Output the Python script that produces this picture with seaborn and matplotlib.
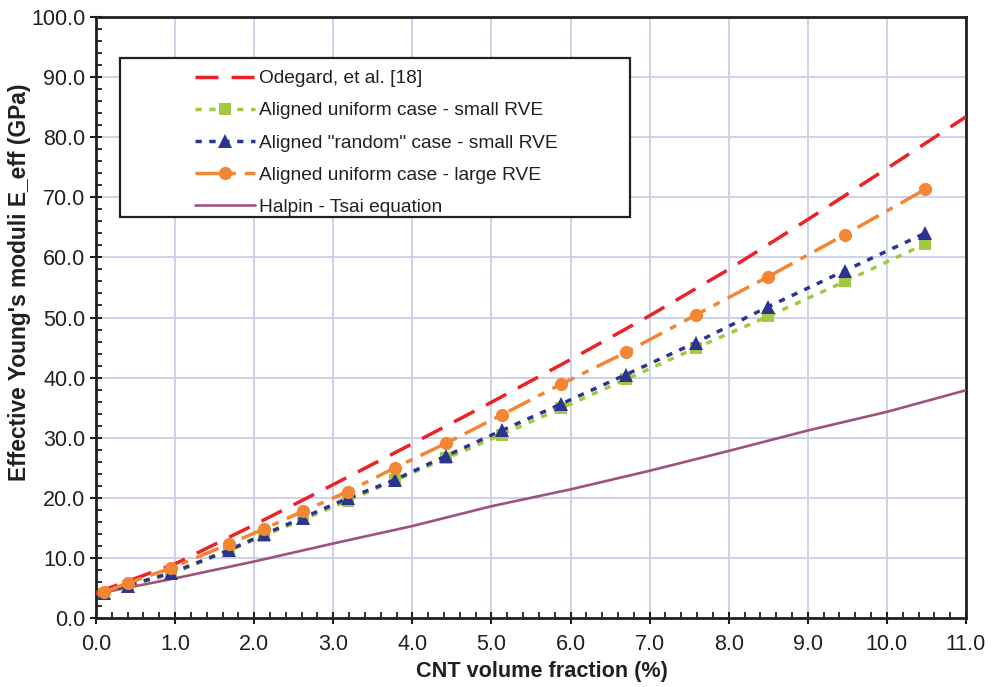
import numpy as np
import pandas as pd
import matplotlib
matplotlib.use("Agg")
import matplotlib.pyplot as plt
from matplotlib.patches import Rectangle
from matplotlib.ticker import MultipleLocator, FormatStrFormatter
import seaborn as sns

# ---- data ----
vf_points = [0.1, 0.4, 0.95, 1.68, 2.12, 2.62, 3.18, 3.78, 4.43, 5.13, 5.88, 6.7, 7.58, 8.5, 9.47, 10.48]
uniform_large = [4.3, 5.8, 8.3, 12.3, 14.8, 17.8, 21.0, 25.0, 29.1, 33.8, 38.9, 44.2, 50.4, 56.8, 63.8, 71.3]
random_small = [4.2, 5.4, 7.5, 11.3, 13.9, 16.7, 19.9, 23.0, 27.0, 31.2, 35.6, 40.5, 45.8, 51.8, 57.8, 64.0]
uniform_small = [4.0, 5.3, 7.3, 11.2, 13.7, 16.4, 19.5, 22.9, 26.6, 30.5, 34.9, 39.7, 44.9, 50.2, 56.0, 62.2]

vf_curve = [0.0, 1.0, 2.0, 3.0, 4.0, 5.0, 6.0, 7.0, 8.0, 9.0, 10.0, 11.0]
odegard = [4.2, 9.0, 15.5, 22.2, 29.0, 35.9, 43.0, 50.3, 58.0, 66.3, 74.8, 83.4]
halpin_tsai = [4.0, 6.6, 9.4, 12.4, 15.3, 18.6, 21.4, 24.5, 27.8, 31.2, 34.3, 37.9]

labels = ["Odegard, et al. [18]",
          "Aligned uniform case - small RVE",
          "Aligned \"random\" case - small RVE",
          "Aligned uniform case - large RVE",
          "Halpin - Tsai equation"]

x_ticks = [0.0, 1.0, 2.0, 3.0, 4.0, 5.0, 6.0, 7.0, 8.0, 9.0, 10.0, 11.0]
y_ticks = [0, 10, 20, 30, 40, 50, 60, 70, 80, 90, 100]

# ---- style ----
sns.set_style("ticks")
plt.rcParams['font.family'] = ['Liberation Sans', 'DejaVu Sans']
text_color = "#231F20"

C_RED = "#EC2227"
C_GREEN = "#A3C940"
C_BLUE = "#2B3590"
C_ORANGE = "#F38634"
C_PURPLE = "#A0527E"
C_GRID = "#CDD1EA"

fig = plt.figure(figsize=(9.95, 6.87), dpi=100)
ax = fig.add_axes([96/995, 69/687, 870/995, 601/687])

df_pts = pd.DataFrame({"vf": vf_points, "large": uniform_large,
                       "rand": random_small, "small": uniform_small})
df_curve = pd.DataFrame({"vf": vf_curve, "ode": odegard, "ht": halpin_tsai})

lw = 2.5
sns.lineplot(data=df_curve, x="vf", y="ht", ax=ax, color=C_PURPLE, lw=1.9,
             label=labels[4], errorbar=None, zorder=3)
sns.lineplot(data=df_curve, x="vf", y="ode", ax=ax, color=C_RED, lw=lw,
             linestyle=(0, (6.6, 3.8)), label=labels[0], errorbar=None, zorder=3)
sns.lineplot(data=df_pts, x="vf", y="small", ax=ax, color=C_GREEN, lw=lw,
             linestyle=(0, (1.8, 2.2)), marker="s", markersize=8.5,
             mec=C_GREEN, mfc=C_GREEN, mew=0, label=labels[1], errorbar=None, zorder=3)
sns.lineplot(data=df_pts, x="vf", y="rand", ax=ax, color=C_BLUE, lw=lw,
             linestyle=(0, (1.8, 2.2)), marker="^", markersize=10,
             mec=C_BLUE, mfc=C_BLUE, mew=0, label=labels[2], errorbar=None, zorder=3)
sns.lineplot(data=df_pts, x="vf", y="large", ax=ax, color=C_ORANGE, lw=lw,
             linestyle=(0, (7.0, 2.6, 2.0, 2.6)), marker="o", markersize=9.5,
             mec=C_ORANGE, mfc=C_ORANGE, mew=0, label=labels[3], errorbar=None, zorder=3)

ax.set_xlim(x_ticks[0], x_ticks[-1])
ax.set_ylim(y_ticks[0], y_ticks[-1])
ax.set_xticks(x_ticks)
ax.set_yticks(y_ticks)
ax.xaxis.set_major_formatter(FormatStrFormatter("%.1f"))
ax.yaxis.set_major_formatter(FormatStrFormatter("%.1f"))
ax.xaxis.set_minor_locator(MultipleLocator(0.2))
ax.yaxis.set_minor_locator(MultipleLocator(2))
ax.grid(True, which="major", color=C_GRID, lw=1.4)
ax.set_axisbelow(True)

ax.tick_params(axis="both", which="major", direction="inout", length=9, width=1.5,
               labelsize=15.5, labelcolor=text_color, color=text_color)
ax.tick_params(axis="x", which="major", pad=7)
ax.tick_params(axis="y", which="major", pad=3)
ax.tick_params(axis="both", which="minor", direction="in", length=4.5, width=1.3,
               color=text_color)
for s in ax.spines.values():
    s.set_linewidth(2.0)
    s.set_color(text_color)

ax.set_xlabel("CNT volume fraction (%)", fontsize=15.6, fontweight="bold",
              color=text_color)
ax.set_ylabel("Effective Young's moduli E_eff (GPa)", fontsize=16.4, fontweight="bold",
              color=text_color)
ax.xaxis.set_label_coords(0.512, -0.071)
ax.yaxis.set_label_coords(-0.0747, 0.559)

# legend frame
frame = Rectangle((0.0276, 0.667), 0.5862, 0.265, transform=ax.transAxes,
                  facecolor="white", edgecolor=text_color, lw=1.6, zorder=4)
ax.add_patch(frame)

handles, labs = ax.get_legend_handles_labels()
order = [labs.index(l) for l in labels]
leg = ax.legend([handles[i] for i in order], [labs[i] for i in order],
                loc="upper left", bbox_to_anchor=(0.1138, 0.912), frameon=False,
                borderaxespad=0, borderpad=0, fontsize=13.8, handlelength=3.15,
                handletextpad=0.2, labelspacing=0.77, numpoints=1)
leg.set_zorder(5)
for t in leg.get_texts():
    t.set_color(text_color)

fig.savefig("out.png", dpi=100)
